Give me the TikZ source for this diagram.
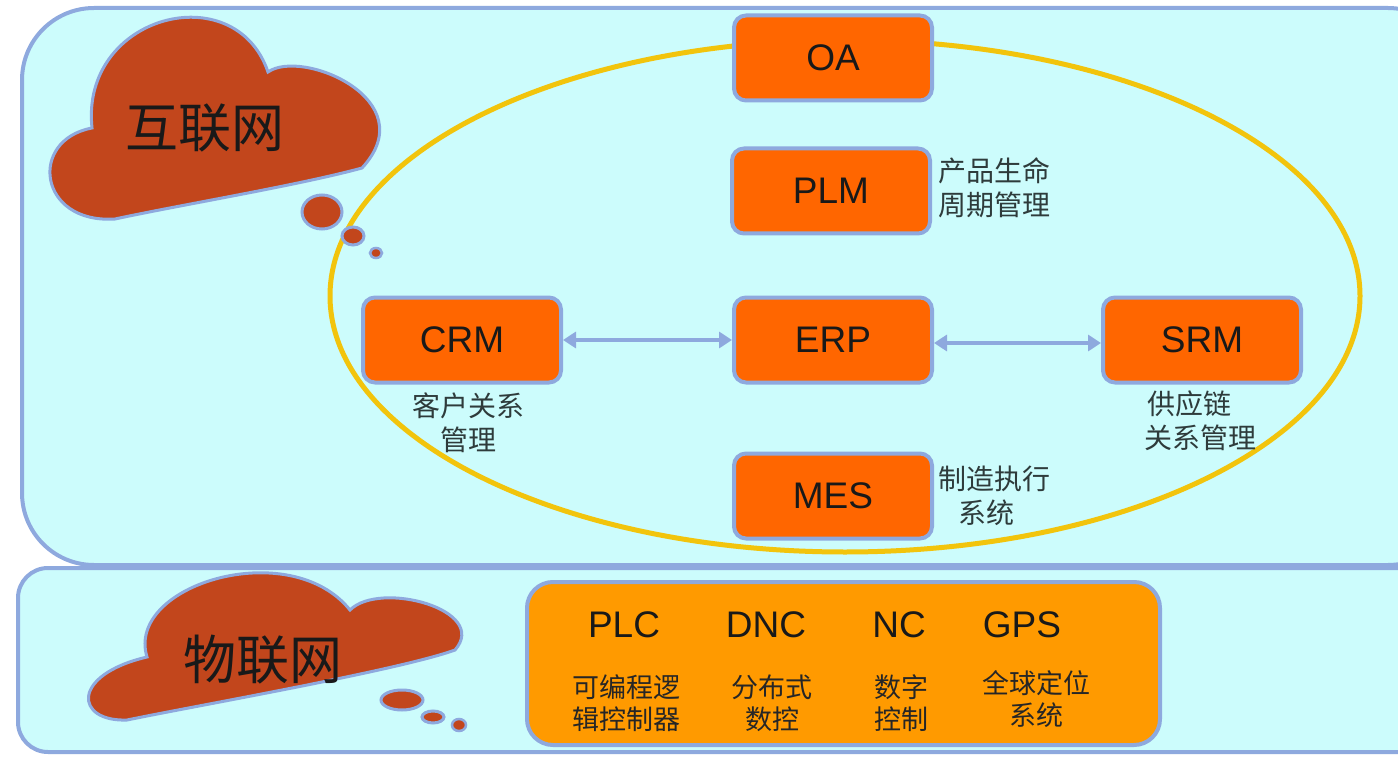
\documentclass[tikz,border=0pt]{standalone}
\usepackage{fontspec}
\setmainfont{Liberation Sans}
\newfontfamily\cjk{Noto Sans CJK SC}
\usetikzlibrary{arrows.meta}
\definecolor{panelfill}{HTML}{CCFCFC}
\definecolor{panelline}{HTML}{8EA9DE}
\definecolor{cloudfill}{HTML}{C2461C}
\definecolor{boxfill}{HTML}{FF6600}
\definecolor{ambfill}{HTML}{FF9A00}
\definecolor{ringcol}{HTML}{F2C40C}
\definecolor{notecol}{HTML}{2E3B3B}
\tikzset{
  panel/.style={draw=panelline, line width=4pt, fill=panelfill},
  cloudshape/.style={draw=panelline, line width=3pt, fill=cloudfill},
  sysbox/.style={draw=panelline, line width=4pt, fill=boxfill, rounded corners=12pt,
    minimum width=198pt, minimum height=85pt, inner sep=0pt,
    font=\fontsize{37}{40}\selectfont, text=black!90},
  note/.style={font=\cjk\fontsize{28}{34}\selectfont, text=notecol, align=center, inner sep=0pt},
  abbr/.style={font=\fontsize{37}{40}\selectfont, text=black!90, inner sep=0pt},
  subnote/.style={font=\cjk\fontsize{27}{32}\selectfont, text=black!85, align=center, inner sep=0pt},
  cloudtext/.style={font=\cjk\fontsize{53}{60}\selectfont, text=black!90, inner sep=0pt},
  link/.style={draw=panelline, line width=4.5pt, {Triangle[length=13pt,width=16pt]}-{Triangle[length=13pt,width=16pt]}},
}
\begin{document}
\begin{tikzpicture}[x=1pt,y=-1pt]
\useasboundingbox (0,0) rectangle (1398,762);
\clip (0,0) rectangle (1398,762);
\fill[white] (0,0) rectangle (1398,762);
% panels
\draw[panel, rounded corners=72pt] (22,8) rectangle (1460,565);
\draw[panel, rounded corners=30pt] (18,568) rectangle (1460,752);
% ring
\draw[ringcol, line width=5pt] (845,296) ellipse [x radius=515, y radius=256];
% top cloud
\draw[cloudshape] (115,219)
  .. controls (38,224) and (28,140) .. (92,128)
  .. controls (80,15) and (235,-25) .. (268,72)
  .. controls (302,48) and (425,100) .. (362,168)
  .. controls (300,185) and (180,205) .. (115,219) -- cycle;
\draw[cloudshape] (322,212) ellipse [x radius=20, y radius=17];
\draw[cloudshape] (353,236) ellipse [x radius=11, y radius=9];
\draw[cloudshape, line width=2.5pt] (376,253) ellipse [x radius=6, y radius=5];
\node[cloudtext] (inet) at (205,128) {互联网};
% bottom cloud
\draw[cloudshape] (127,720)
  .. controls (75,722) and (70,675) .. (147,657)
  .. controls (125,585) and (290,535) .. (350,610)
  .. controls (380,580) and (490,610) .. (455,650)
  .. controls (400,670) and (200,705) .. (127,720) -- cycle;
\draw[cloudshape] (402,700) ellipse [x radius=21, y radius=10];
\draw[cloudshape] (433,717) ellipse [x radius=11, y radius=6];
\draw[cloudshape, line width=2.5pt] (459,725) ellipse [x radius=7, y radius=6];
\node[cloudtext] (iot) at (263,660) {物联网};
% system boxes
\node[sysbox] (OA)  at (833,58)  {OA};
\node[sysbox] (PLM) at (831,191) {PLM};
\node[sysbox] (CRM) at (462,340) {CRM};
\node[sysbox] (ERP) at (833,340) {ERP};
\node[sysbox] (SRM) at (1202,340) {SRM};
\node[sysbox] (MES) at (833,496) {MES};
\draw[link] (CRM) -- (ERP);
\draw[link] (ERP.east |- 0,343) coordinate (e1) -- (SRM.west |- 0,343) coordinate (s1);
% notes
\node[note, align=left, anchor=west] (plmn) at (938,188) {产品生命\\周期管理};
\node[note] (crmn) at (468,423) {客户关系\\管理};
\node[note] (srmn) at (1200,421) {供应链\hspace*{22pt}\\关系管理};
\node[note] (mesn) at (994,496) {制造执行\\系统\hspace*{16pt}};
% bottom box
\draw[draw=panelline, line width=4pt, fill=ambfill, rounded corners=26pt] (527,582) rectangle (1160,745);
\node[abbr] (plc) at (624,625) {PLC};
\node[abbr] (dnc) at (766,625) {DNC};
\node[abbr] (nc)  at (899,625) {NC};
\node[abbr] (gps) at (1022,625) {GPS};
\node[subnote] (plcn) at (626,703) {可编程逻\\辑控制器};
\node[subnote] (dncn) at (772,703) {分布式\\数控};
\node[subnote] (ncn)  at (901,703) {数字\\控制};
\node[subnote] (gpsn) at (1036,699) {全球定位\\系统};
\end{tikzpicture}
\end{document}
